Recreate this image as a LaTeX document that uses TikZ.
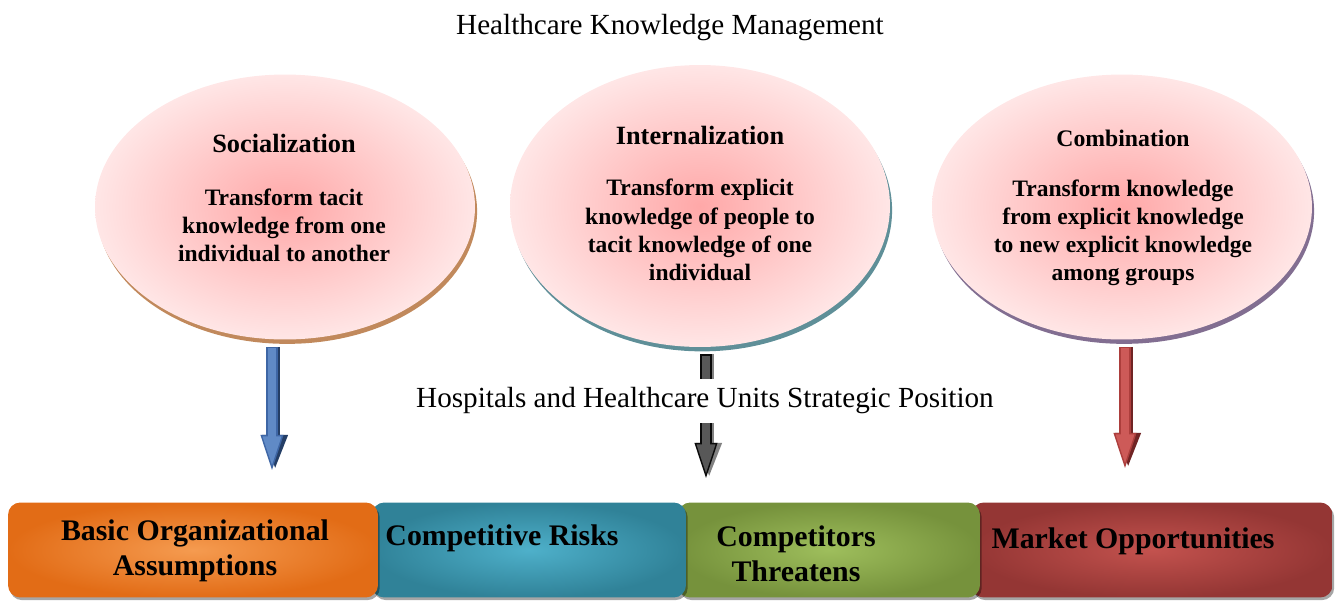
\documentclass[tikz,border=0pt]{standalone}
\usepackage{fontspec}
\setmainfont{Liberation Serif}
\usetikzlibrary{shapes.geometric, shadows, arrows.meta}

\definecolor{bubbleIn}{RGB}{255,168,168}
\definecolor{bubbleOut}{RGB}{255,230,230}
\definecolor{socShadow}{RGB}{172,98,38}
\definecolor{intShadow}{RGB}{42,105,118}
\definecolor{comShadow}{RGB}{88,62,108}
\definecolor{orangeIn}{RGB}{245,155,80}
\definecolor{orangeOut}{RGB}{226,108,22}
\definecolor{tealIn}{RGB}{78,176,202}
\definecolor{tealOut}{RGB}{48,130,152}
\definecolor{greenIn}{RGB}{158,190,92}
\definecolor{greenOut}{RGB}{118,146,60}
\definecolor{redIn}{RGB}{195,82,78}
\definecolor{redOut}{RGB}{148,54,52}
\definecolor{blueFill}{RGB}{96,138,198}
\definecolor{blueEdge}{RGB}{62,102,165}
\definecolor{blueShadow}{RGB}{36,62,102}
\definecolor{grayFill}{RGB}{88,88,88}
\definecolor{grayEdge}{RGB}{10,10,10}
\definecolor{grayShadow}{RGB}{130,130,130}
\definecolor{redFill}{RGB}{205,90,88}
\definecolor{redEdge}{RGB}{172,62,60}
\definecolor{redShadow}{RGB}{112,36,36}

\begin{document}
\begin{tikzpicture}[x=0.02cm, y=-0.02cm,
  bubble/.style={ellipse, minimum width=7.6cm, minimum height=5.3cm,
    shading=radial, inner color=bubbleIn, outer color=bubbleOut},
  bubshadow/.style={drop shadow={shadow xshift=1.2pt, shadow yshift=-2.5pt, fill=#1, opacity=.75}},
  head/.style={font=\fontsize{15}{18}\selectfont\bfseries},
  body/.style={font=\fontsize{13.4}{16}\selectfont\bfseries, align=center},
  plain/.style={font=\fontsize{16.6}{20}\selectfont},
  bar/.style={rounded corners=7pt, minimum height=1.9cm, shading=radial,
    drop shadow={shadow xshift=1pt, shadow yshift=-1.5pt, fill=black, opacity=.35}},
  bartext/.style={font=\fontsize{17}{20}\selectfont\bfseries, align=center},
  arrshadow/.style={draw=#1, line width=6pt, shorten <=4pt, transform canvas={xshift=1.8pt},
    -{Triangle[width=13pt, length=20pt, fill=#1]}},
  arredge/.style 2 args={draw=#1, line width=6.4pt, shorten <=4pt,
    -{Triangle[width=13pt, length=20pt, line width=0.8pt, fill=#2]}},
  arrfill/.style={draw=#1, line width=4.8pt, shorten <=4.8pt, shorten >=19pt}]

\useasboundingbox (0,0) rectangle (1336,602);

\node[plain] (title) at (670,28) {Healthcare Knowledge Management};

\node[bubble, bubshadow=socShadow] (soc) at (285,207) {};
\node[bubble, minimum height=5.64cm, bubshadow=intShadow] (int) at (700,206) {};
\node[bubble, bubshadow=comShadow] (com) at (1122,207) {};

\node[head] (socH) at (284,143) {Socialization};
\node[body] (socT) at (284,225) {Transform tacit\\knowledge from one\\individual to another};
\node[head] (intH) at (700,135) {Internalization};
\node[body] (intT) at (700,230) {Transform explicit\\knowledge of people to\\tacit knowledge of one\\individual};
\node[head, font=\fontsize{13.5}{16}\selectfont\bfseries] (comH) at (1123,138) {Combination};
\node[body] (comT) at (1123,233) {Transform knowledge\\from explicit knowledge\\to new explicit knowledge\\among groups};

\coordinate (socEnd) at (272,470);
\coordinate (intEnd) at (706,478);
\coordinate (comEnd) at (1125,468);

\draw[arrshadow=blueShadow] (soc.south -| socEnd) -- (socEnd);
\draw[arredge={blueEdge}{blueFill}] (soc.south -| socEnd) -- (socEnd);
\draw[arrfill=blueFill] (soc.south -| socEnd) -- (socEnd);

\draw[arrshadow=grayShadow] (int.south -| intEnd) -- (intEnd);
\draw[arredge={grayEdge}{grayFill}] (int.south -| intEnd) -- (intEnd);
\draw[arrfill=grayFill] (int.south -| intEnd) -- (intEnd);

\draw[arrshadow=redShadow] (com.south -| comEnd) -- (comEnd);
\draw[arredge={redEdge}{redFill}] (com.south -| comEnd) -- (comEnd);
\draw[arrfill=redFill] (com.south -| comEnd) -- (comEnd);

\node[plain, fill=white, inner ysep=5pt] (pos) at (705,401) {Hospitals and Healthcare Units Strategic Position};

\node[bar, minimum width=7.22cm, inner color=redIn, outer color=redOut] (mkt) at (1152,550) {};
\node[bar, minimum width=6.04cm, inner color=greenIn, outer color=greenOut] (thr) at (829,550) {};
\node[bar, minimum width=6.28cm, inner color=tealIn, outer color=tealOut] (risk) at (529,550) {};
\node[bar, minimum width=7.4cm, inner color=orangeIn, outer color=orangeOut] (basic) at (193,550) {};

\node[bartext] (basicT) at (195,551) {Basic Organizational\\Assumptions};
\node[bartext] (riskT) at (502,538) {Competitive Risks};
\node[bartext] (thrT) at (796,554) {Competitors\\Threatens};
\node[bartext] (mktT) at (1133,541) {Market Opportunities};

\end{tikzpicture}
\end{document}
